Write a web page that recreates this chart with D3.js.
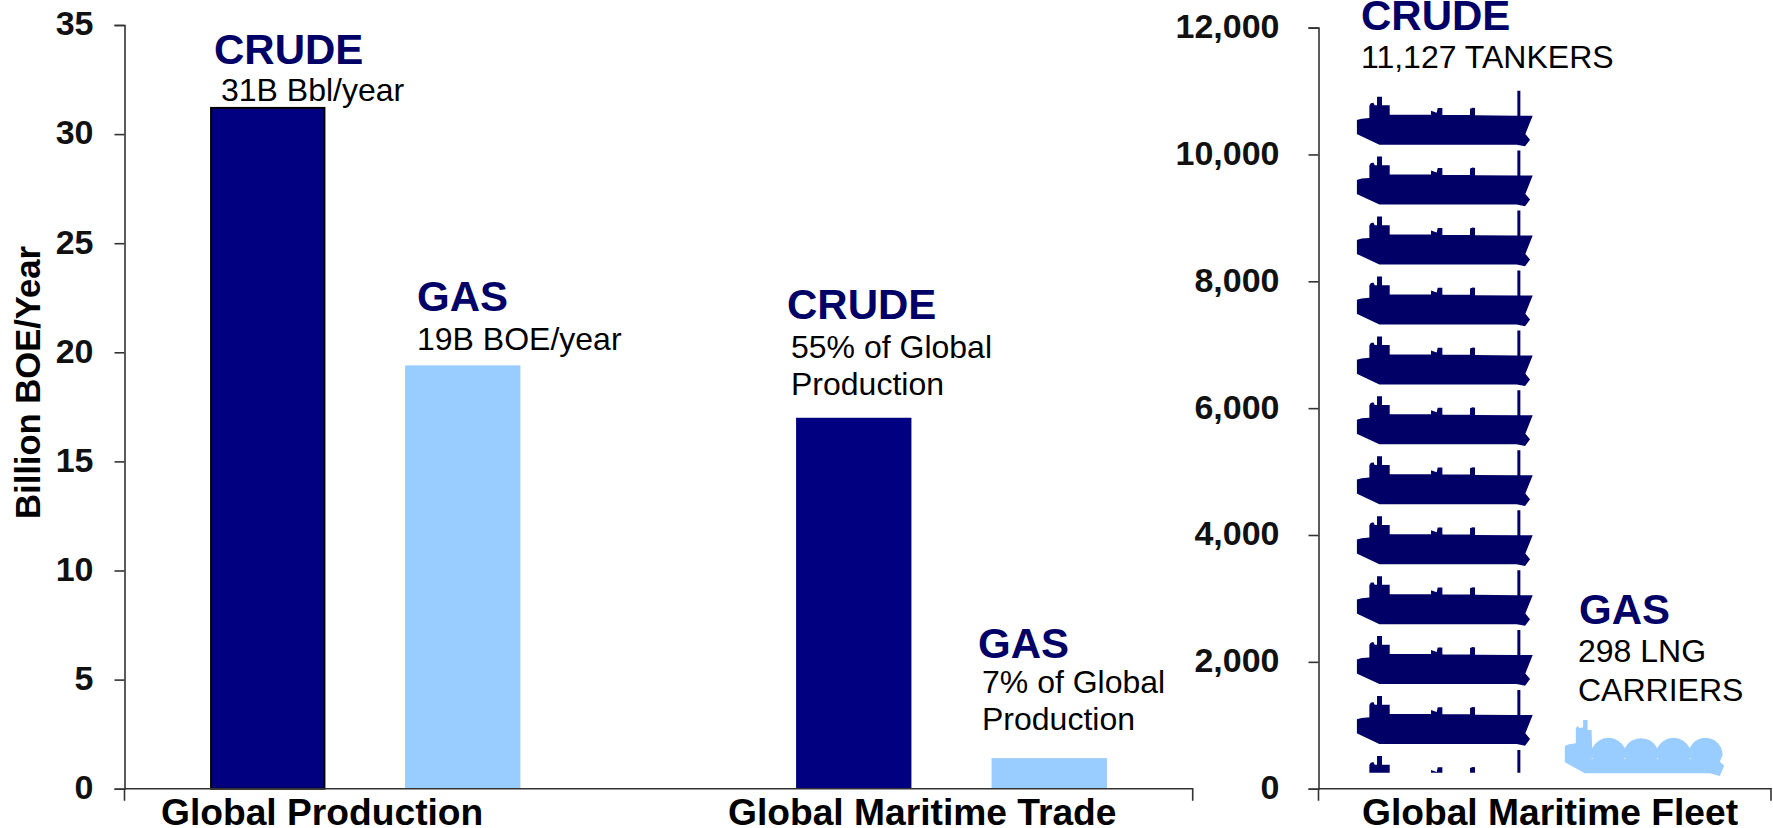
<!DOCTYPE html>
<html>
<head>
<meta charset="utf-8">
<script src="https://cdn.jsdelivr.net/npm/d3@7"></script>
<style>
  html, body { margin: 0; background: #fff; }
  svg { display: block; font-family: "Liberation Sans", Arial, sans-serif; }
  .domain, .tick line { stroke: #333; stroke-width: 1.6px; }
  .tick text { font-size: 34px; font-weight: bold; fill: #111; }
  .cat { font-size: 37.2px; font-weight: bold; fill: #000; }
  .head { font-size: 42px; font-weight: bold; fill: #000066; }
  .sub { font-size: 32px; fill: #000; }
</style>
</head>
<body>
<div id="chart"></div>
<script>
// left panel
const barKeys = ["Production Crude", "Production Gas", "", "Trade Crude", "Trade Gas"];
const barValues = [31.2, 19.4, 0, 17.0, 1.4];
const barKinds = ["crude", "gas", "", "crude", "gas"];
const volumeTicks = [0, 5, 10, 15, 20, 25, 30, 35];

// right panel
const fleetKeys = ["Crude", "Gas"];
const fleetValues = [11127, 298];
const fleetTicks = [0, 2000, 4000, 6000, 8000, 10000, 12000];
const tankersPerIcon = 945;
const iconFloor = 250;

const colors = { crude: "#000080", gas: "#99ccff", tanker: "#000066" };

let svg = d3.select("#chart").append("svg").attr("width", 1773).attr("height", 828);

let y = d3.scaleLinear().domain([0, 35]).range([788.7, 25]);
let yFleet = d3.scaleLinear().domain([0, 12000]).range([788.7, 27.6]);
let x = d3.scaleBand().domain(barKeys).range([169.5, 1147]).paddingInner(0.41).paddingOuter(0.205);
let xFleet = d3.scaleBand().domain(fleetKeys).range([1356.7, 1773]);

// bars, the first one has a black outline drawn inside its slot
svg.selectAll("rect.bar")
  .data(barKeys.map((k, i) => ({ key: k, value: barValues[i], kind: barKinds[i] })).filter(d => d.kind))
  .enter()
  .append("rect")
  .attr("class", "bar")
  .attr("x", (d, i) => x(d.key) + (i == 0 ? 1.5 : 0))
  .attr("y", d => y(d.value))
  .attr("width", (d, i) => x.bandwidth() - (i == 0 ? 2 : 0))
  .attr("height", d => y(0) - y(d.value))
  .attr("fill", d => colors[d.kind])
  .attr("stroke", (d, i) => i == 0 ? "#000" : "none")
  .attr("stroke-width", 2);

// tanker icon, traced at 1/3 px, origin at funnel top / left of hull
const tankerShape = [[0,70],[15,66],[38,64],[38,27],[42,20],[50,18],[54,26],[61,26],[61,0],[76,0],[76,26],[99,26],[99,54],
  [223,54],[223,42],[240,48],[243,34],[257,34],[257,55],[340,55],[340,36],[348,33],[355,34],[355,56],[482,57],[482,-18],[491,-18],[491,57],
  [528,57],[506,112],[520,129],[505,149],[480,144],[68,144],[0,112]];
let shipLine = d3.line().x(d => d[0] / 3).y(d => d[1] / 3);

svg.append("clipPath").attr("id", "fleetClip")
  .append("rect").attr("x", xFleet("Crude")).attr("y", 0).attr("width", xFleet.bandwidth()).attr("height", yFleet(iconFloor));

let rows = d3.range(Math.ceil(fleetValues[0] / tankersPerIcon));
svg.append("g").attr("clip-path", "url(#fleetClip)")
  .selectAll("path")
  .data(rows)
  .enter()
  .append("path")
  .attr("transform", i => `translate(${xFleet("Crude")},${yFleet(fleetValues[0] - i * tankersPerIcon) + 13.7})`)
  .attr("d", shipLine(tankerShape))
  .attr("fill", colors.tanker);

// lng carrier icon, origin at left of hull / funnel top
let lng = svg.append("g")
  .attr("transform", `translate(${xFleet("Gas")},${yFleet(fleetValues[1]) - 49.8})`);
lng.append("path")
  .attr("fill", colors.gas)
  .attr("d", "M0,26 L4.3,24.3 L11,23.3 L11,8.3 L12.7,6 L15,8.3 L18.3,7.3 L18.3,0 L22.7,0 L22.7,10 L26.7,10 L27.3,28.3"
    + " A 18 18 0 0 1 60,28.3 A 18 18 0 0 1 92.3,28.3 A 18 18 0 0 1 125,28.3"
    + " A 17 17 0 0 1 157.7,35 L155,41.7 L159.3,45.7 L155,56 L145,53.3 L20,53.3 L0,42.3 Z");
lng.selectAll("circle")
  .data([0, 1, 2, 3])
  .enter()
  .append("circle")
  .attr("cx", i => 27.3 + i * 32.7)
  .attr("cy", 38.3)
  .attr("r", 0.6)
  .attr("fill", "#fff");

// axes
let axisLeft = d3.axisLeft(y).tickValues(volumeTicks).tickSize(10).tickPadding(21);
let gLeft = svg.append("g").attr("transform", "translate(124.5,0)").call(axisLeft);
gLeft.selectAll(".tick text").attr("y", -1);
let axisFleet = d3.axisLeft(yFleet).tickValues(fleetTicks).tickFormat(d3.format(",")).tickSize(10).tickPadding(29);
let gFleet = svg.append("g").attr("transform", "translate(1318.5,0)").call(axisFleet);
gFleet.selectAll(".tick text").attr("y", -1);

// baselines with the end ticks going below
svg.append("path").attr("class", "domain").attr("fill", "none").attr("d", "M124.5,788.7 V800.7 M124.5,788.7 H1192.7 V800.7");
svg.append("path").attr("class", "domain").attr("fill", "none").attr("d", "M1318.5,788.7 V800.7 M1318.5,788.7 H1771 V800.7");

// text
function note(px, baseline, head) {
  svg.append("text").attr("class", "head").attr("x", px).attr("y", baseline).text(head);
}
function sub(px, baseline, txt) {
  svg.append("text").attr("class", "sub").attr("x", px).attr("y", baseline).text(txt);
}
function cat(px, txt) {
  svg.append("text").attr("class", "cat").attr("x", px).attr("y", 825).text(txt);
}

note(214, 64, "CRUDE"); sub(221, 101, "31B Bbl/year");
note(417, 311, "GAS"); sub(417, 350, "19B BOE/year");
note(787, 319, "CRUDE"); sub(791, 358, "55% of Global"); sub(791, 395, "Production");
note(978, 658, "GAS"); sub(982, 693, "7% of Global"); sub(982, 730, "Production");
note(1361, 30, "CRUDE"); sub(1361, 68, "11,127 TANKERS");
note(1579, 624, "GAS"); sub(1578, 662, "298 LNG"); sub(1578, 701, "CARRIERS");

cat(161, "Global Production");
cat(728, "Global Maritime Trade");
cat(1362, "Global Maritime Fleet");

svg.append("text")
  .attr("class", "cat")
  .style("font-size", "34.6px")
  .attr("text-anchor", "middle")
  .attr("transform", "translate(40,382.5) rotate(-90)")
  .text("Billion BOE/Year");
</script>
</body>
</html>
